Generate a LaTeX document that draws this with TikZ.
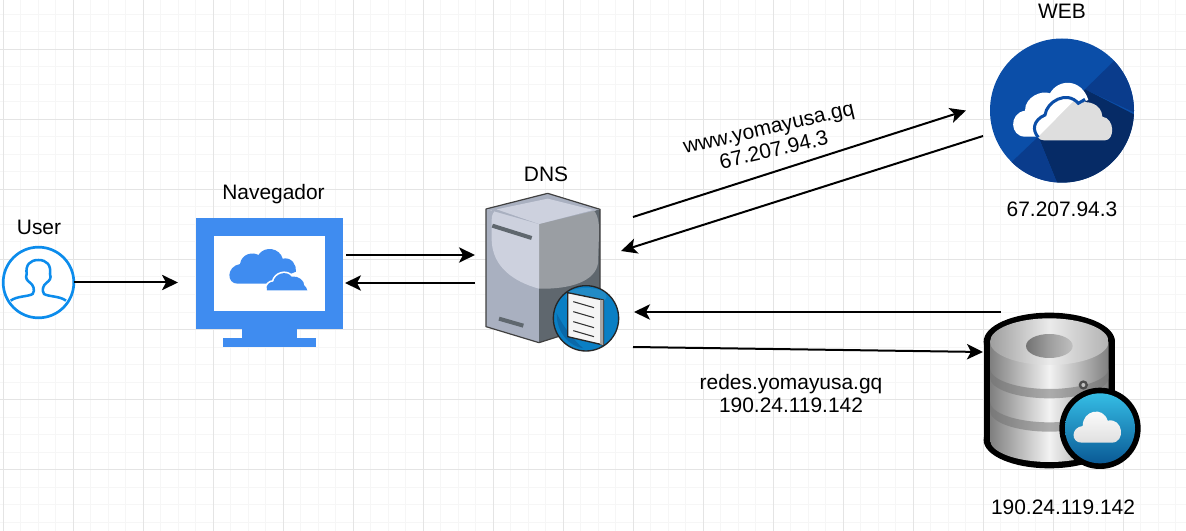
\documentclass[tikz,border=0pt]{standalone}
\usepackage{fontspec}
\setmainfont{Liberation Sans}
\usetikzlibrary{arrows.meta,positioning}
\definecolor{gridminor}{HTML}{F6F6F6}
\definecolor{gridmajor}{HTML}{E4E4E4}
\definecolor{userblue}{HTML}{0C8CEC}
\definecolor{navblue}{HTML}{3F8CF0}
\definecolor{webblue}{HTML}{0B4EA8}
\definecolor{webmid}{HTML}{0A3C8C}
\definecolor{webdark}{HTML}{062B66}
\definecolor{dnsleft}{HTML}{A9B0C0}
\definecolor{dnslight}{HTML}{CDD1DE}
\definecolor{dnsright}{HTML}{9A9EA3}
\definecolor{dnsdark}{HTML}{5F676E}
\definecolor{dnsglobe}{HTML}{0A7FC4}
\definecolor{badgetop}{HTML}{35BDE5}
\definecolor{badgebot}{HTML}{0A5A96}
\tikzset{
  lbl/.style={font=\fontsize{15.7}{17.25}\selectfont,align=center,inner sep=0pt,text=black},
  icon/.style 2 args={minimum width=#1*0.75pt,minimum height=#2*0.75pt,inner sep=0pt,outer sep=0pt},
  flow/.style={->,line width=1.5pt},
  >={Stealth[length=12pt,width=11.5pt,inset=3pt]}
}
\begin{document}
\begin{tikzpicture}[x=0.75pt,y=-0.75pt]
\useasboundingbox (0,0) rectangle (1186,531);
\fill[white] (0,0) rectangle (1186,531);
% grid
\foreach \gx in {3,20.5,...,1186} {\draw[gridminor,line width=0.75pt] (\gx,0) -- (\gx,531);}
\foreach \gy in {14.5,32,...,531} {\draw[gridminor,line width=0.75pt] (0,\gy) -- (1186,\gy);}
\foreach \gx in {3,73,...,1186} {\draw[gridmajor,line width=0.75pt] (\gx,0) -- (\gx,531);}
\foreach \gy in {49.5,119.5,...,531} {\draw[gridmajor,line width=0.75pt] (0,\gy) -- (1186,\gy);}
%
\node (user) [circle,draw=userblue,line width=2pt,fill=white,minimum size=53pt,inner sep=0pt,outer sep=0pt] at (38.5,282.5) {};
\node (nav) [icon={147}{129}] at (269.5,282.5) {};
\node (dns) [icon={133}{158}] at (552.5,272) {};
\node (web) [circle,fill=webblue,minimum size=108pt,inner sep=0pt,outer sep=0pt] at (1062,110.5) {};
\node (db) [icon={157}{155}] at (1062.5,390.5) {};
% user
\begin{scope}[shift={(0,170)},scale=1/3]
\draw[userblue,line width=1.9pt,line join=round] (32,392) .. controls (50,378) and (85,380) .. (98,372) .. controls (106,360) and (100,345) .. (90,338) .. controls (82,332) and (75,325) .. (80,312) .. controls (76,285) and (90,270) .. (115,270) .. controls (140,270) and (154,285) .. (150,312) .. controls (155,325) and (148,332) .. (140,338) .. controls (130,345) and (124,360) .. (132,372) .. controls (145,380) and (180,378) .. (198,392);
\end{scope}
% navegador
\begin{scope}[shift={(0,170)},scale=1/3]
\fill[navblue] (588,143) rectangle (1030,477);
\fill[white] (641,197) rectangle (975,422);
\fill[navblue] (726,477) rectangle (890,504);
\fill[navblue] (670,504) rectangle (947,532);
\fill[navblue] (712,341) .. controls (680,341) and (678,290) .. (720,282) .. controls (725,250) and (760,245) .. (775,255) .. controls (795,225) and (840,235) .. (848,266) .. controls (875,260) and (890,285) .. (888,305) -- (800,341) -- cycle;
\draw[navblue,fill=navblue,postaction={draw=white,line width=2.5pt},postaction={fill=navblue}] (801,361) .. controls (795,345) and (810,335) .. (820,335) .. controls (825,310) and (860,300) .. (875,320) .. controls (895,315) and (915,335) .. (912,345) .. controls (918,350) and (920,355) .. (922,361) -- cycle;
\end{scope}
% dns
\begin{scope}[shift={(460,150)},scale=1/3]
\fill[dnsleft] (78,177) -- (237,222) -- (237,578) -- (78,530) -- cycle;
\fill[dnsdark] (237,222) -- (420,178) -- (420,520) -- (237,578) -- cycle;
\fill[dnsright] (237,222) -- (400,180) .. controls (420,200) and (418,240) .. (416,280) -- (414,340) .. controls (405,395) and (330,418) .. (237,416) -- cycle;
\fill[dnslight] (110,178) -- (237,222) -- (237,416) .. controls (160,395) and (97,350) .. (95,270) -- (95,210) .. controls (95,195) and (100,185) .. (110,178) -- cycle;
\fill[dnsleft] (78,177) -- (263,130) -- (420,178) -- (237,222) -- cycle;
\fill[dnslight] (110,178) -- (263,146) -- (400,180) -- (237,222) -- cycle;
\draw[black!75,line width=0.9pt,line join=round] (78,177) -- (263,130) -- (420,178) -- (420,520) -- (237,578) -- (78,530) -- cycle;
\draw[dnsdark,line width=3pt] (97,227) -- (215,264);
\draw[dnsdark,line width=3pt] (117,506) -- (190,527);
\fill[dnsglobe,draw=black!85,line width=1pt] (378,505) circle [radius=98];
\fill[cyan!40!dnsglobe,opacity=0.8] (378,440) ellipse [x radius=62,y radius=26];
\fill[badgebot,opacity=0.6] (290,490) .. controls (310,530) and (340,570) .. (370,595) .. controls (330,590) and (290,550) .. (290,490) -- cycle;
\draw[black!85,fill=white!92!gray,line width=1pt,line join=round] (323,428) -- (430,450) -- (430,585) -- (323,560) -- cycle;
\fill[gray!70] (420,449) -- (430,450) -- (430,585) -- (420,583) -- cycle;
\foreach \ly in {455,485,515,542} {\draw[black!80,line width=0.8pt] (340,\ly) -- (402,\ly+18);}
\end{scope}
% web
\begin{scope}[shift={(970,0)},scale=1/3]
\begin{scope}
\clip (276,332) circle [radius=216];
\fill[webmid] (345,268) -- (435,180) -- (520,200) -- (520,350) -- cycle;
\fill[webdark] (345,268) -- (505,350) -- (505,570) -- (270,570) -- (205,410) -- cycle;
\fill[webmid] (205,410) -- (270,570) -- (100,510) -- cycle;
\end{scope}
\fill[white] (165,410) .. controls (120,410) and (115,340) .. (165,332) .. controls (165,290) and (215,270) .. (240,280) .. controls (265,235) and (335,235) .. (355,300) -- (330,310) -- (200,410) -- cycle;
\fill[black!13] (222,421) .. controls (190,421) and (185,365) .. (225,345) .. controls (230,305) and (290,270) .. (325,310) .. controls (350,300) and (395,310) .. (397,350) .. controls (435,355) and (435,421) .. (405,421) -- cycle;
\begin{scope}
\clip (150,230) -- (345,268) -- (205,410) -- (150,430) -- cycle;
\fill[white] (222,421) .. controls (190,421) and (185,365) .. (225,345) .. controls (230,305) and (290,270) .. (325,310) .. controls (350,300) and (395,310) .. (397,350) -- (397,421) -- cycle;
\end{scope}
\draw[webblue,line width=2.25pt] (205,412) .. controls (185,390) and (190,360) .. (225,345) .. controls (230,305) and (290,270) .. (325,310) -- (345,298);
\end{scope}
% db
\begin{scope}[shift={(960,300)},scale=1/3]
\fill[black] (268,125) ellipse [x radius=197,y radius=87] (268,420) ellipse [x radius=197,y radius=85];
\fill[black] (71,125) rectangle (465,420);
\shade[left color=black!50,right color=black!50,middle color=white!95!black] (90,125) -- (90,420) arc [start angle=180,end angle=0,x radius=178,y radius=66] -- (446,125) -- cycle;
\foreach \gy in {205,305} {
  \fill[black!55,opacity=0.55] (90,\gy) arc [start angle=180,end angle=0,x radius=178,y radius=62] -- (446,\gy+28) arc [start angle=0,end angle=180,x radius=178,y radius=62] -- cycle;
}
\shade[left color=black!38,right color=black!30,middle color=black!8] (268,125) ellipse [x radius=178,y radius=70];
\shade[left color=black!55,right color=black!25,middle color=black!38] (268,138) ellipse [x radius=70,y radius=36];
\fill[black!70] (370,255) circle [radius=14];
\fill[black!25] (370,255) circle [radius=6];
\fill[black] (420,385) circle [radius=122];
\shade[top color=badgetop,bottom color=badgebot] (420,385) circle [radius=105];
\shade[top color=white,bottom color=black!12] (365,428) .. controls (332,428) and (332,382) .. (368,378) .. controls (368,330) and (430,318) .. (443,362) .. controls (490,352) and (498,428) .. (455,428) -- cycle;
\end{scope}
% labels
\node (userlbl) [lbl,anchor=base] at (39,235) {User};
\node (navlbl) [lbl,anchor=base] at (273.5,199.5) {Navegador};
\node (dnslbl) [lbl,anchor=base] at (546,182) {DNS};
\node (weblbl) [lbl,anchor=base] at (1062,19) {WEB};
\node (webip) [lbl,anchor=base] at (1062,217) {67.207.94.3};
\node (dbip) [lbl,anchor=base] at (1063,514) {190.24.119.142};
\node (wwwlbl) [lbl,rotate=13] at (771.5,140) {www.yomayusa.gq\\67.207.94.3};
\node (redeslbl) [lbl] at (791,394) {redes.yomayusa.gq\\190.24.119.142};
% arrows
\path[flow] (user.east) edge ([shift={(-18,0)}]nav.west);
\path[flow] ([shift={(3,-27.5)}]nav.east) edge ([shift={(-11,-17)}]dns.west);
\path[flow] ([shift={(-11,11)}]dns.west) edge ([shift={(2,0.5)}]nav.east);
\path[flow] ([shift={(14,-55)}]dns.east) edge ([shift={(-24,0)}]web.west);
\path[flow] ([shift={(-7,25.5)}]web.west) edge ([shift={(2,-21)}]dns.east);
\path[flow] ([shift={(17,-78.5)}]db.west) edge ([shift={(15,40)}]dns.east);
\path[flow] ([shift={(14,75)}]dns.east) edge ([shift={(-1,-38.5)}]db.west);
\end{tikzpicture}
\end{document}
